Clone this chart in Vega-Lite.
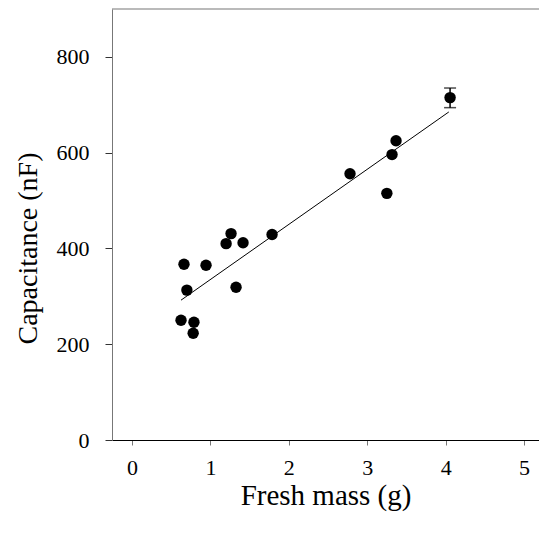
{
  "$schema": "https://vega.github.io/schema/vega-lite/v6.json",
  "width": 427,
  "height": 431,
  "autosize": {"type": "none"},
  "padding": {"left": 112, "top": 9, "right": 0, "bottom": 98},
  "background": "white",
  "config": {
    "view": {"stroke": null},
    "font": "Liberation Serif",
    "axis": {
      "grid": false,
      "labelFont": "Liberation Serif",
      "titleFont": "Liberation Serif",
      "labelFontSize": 22,
      "titleFontSize": 28,
      "titleFontWeight": "normal",
      "labelColor": "black",
      "titleColor": "black",
      "domainColor": "black",
      "tickColor": "#333333"
    }
  },
  "datasets": {
    "pts": [
      {"mass": 0.625, "cap": 250},
      {"mass": 0.663, "cap": 367},
      {"mass": 0.70, "cap": 313},
      {"mass": 0.79, "cap": 246},
      {"mass": 0.78, "cap": 223},
      {"mass": 0.944, "cap": 365},
      {"mass": 1.20, "cap": 410},
      {"mass": 1.263, "cap": 431},
      {"mass": 1.327, "cap": 319},
      {"mass": 1.416, "cap": 412},
      {"mass": 1.786, "cap": 429},
      {"mass": 2.78, "cap": 556},
      {"mass": 3.25, "cap": 515},
      {"mass": 3.316, "cap": 596},
      {"mass": 3.367, "cap": 625},
      {"mass": 4.056, "cap": 715, "lo": 694, "hi": 735}
    ],
    "fit": [
      {"mass": 0.625, "cap": 292},
      {"mass": 4.04, "cap": 685}
    ],
    "frame": [
      {"x1": -0.255, "x2": 5.19, "top": 900}
    ]
  },
  "layer": [
    {
      "data": {"name": "frame"},
      "mark": {"type": "rule", "color": "#777777", "strokeWidth": 1.2},
      "encoding": {
        "x": {"field": "x1", "type": "quantitative", "scale": {"domain": [-0.255, 5.19], "nice": false, "zero": false}},
        "x2": {"field": "x2"},
        "y": {"field": "top", "type": "quantitative", "scale": {"domain": [0, 900], "nice": false}}
      }
    },
    {
      "data": {"name": "fit"},
      "mark": {"type": "line", "color": "black", "strokeWidth": 1},
      "encoding": {
        "x": {"field": "mass", "type": "quantitative"},
        "y": {"field": "cap", "type": "quantitative"}
      }
    },
    {
      "data": {"name": "pts"},
      "transform": [{"filter": "datum.hi != null"}],
      "mark": {"type": "rule", "color": "black", "strokeWidth": 1.5},
      "encoding": {
        "x": {"field": "mass", "type": "quantitative"},
        "y": {"field": "lo", "type": "quantitative"},
        "y2": {"field": "hi"}
      }
    },
    {
      "data": {"name": "pts"},
      "transform": [{"filter": "datum.hi != null"}],
      "mark": {"type": "tick", "orient": "horizontal", "color": "black", "size": 12, "thickness": 1.5},
      "encoding": {
        "x": {"field": "mass", "type": "quantitative"},
        "y": {"field": "hi", "type": "quantitative"}
      }
    },
    {
      "data": {"name": "pts"},
      "transform": [{"filter": "datum.hi != null"}],
      "mark": {"type": "tick", "orient": "horizontal", "color": "black", "size": 12, "thickness": 1.5},
      "encoding": {
        "x": {"field": "mass", "type": "quantitative"},
        "y": {"field": "lo", "type": "quantitative"}
      }
    },
    {
      "data": {"name": "pts"},
      "mark": {"type": "circle", "color": "black", "opacity": 1, "size": 130},
      "encoding": {
        "x": {
          "field": "mass",
          "type": "quantitative",
          "axis": {
            "values": [0, 1, 2, 3, 4, 5],
            "format": "d",
            "title": "Fresh mass (g)",
            "titleFontSize": 29,
            "tickSize": 5,
            "tickColor": "#777777",
            "labelPadding": 12,
            "titleY": 55,
            "titleBaseline": "middle",
            "labelFlush": false
          }
        },
        "y": {
          "field": "cap",
          "type": "quantitative",
          "axis": {
            "values": [0, 200, 400, 600, 800],
            "format": "d",
            "title": "Capacitance (nF)",
            "domainColor": "#777777",
            "tickSize": 7,
            "labelPadding": 16,
            "titleX": -84,
            "titleY": 239,
            "titleAlign": "center",
            "titleBaseline": "middle",
            "titleAngle": -90,
            "labelFlush": false
          }
        }
      }
    }
  ]
}
